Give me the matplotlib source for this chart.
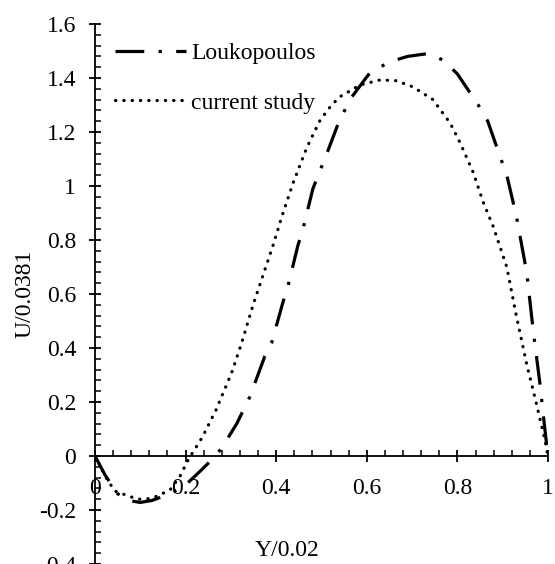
import numpy as np
import matplotlib
matplotlib.use("Agg")
import matplotlib.pyplot as plt
from matplotlib.ticker import MultipleLocator, FuncFormatter

plt.rcParams['font.family'] = ['Liberation Serif', 'DejaVu Serif']
plt.rcParams['font.size'] = 17

# Loukopoulos (dash-dot)
louk_x = [0, 0.022, 0.05, 0.075, 0.1, 0.125, 0.15, 0.195, 0.236, 0.26, 0.28,
          0.313, 0.342, 0.375, 0.39, 0.415, 0.426, 0.448, 0.459, 0.481, 0.514,
          0.54, 0.567, 0.607, 0.651, 0.69, 0.733, 0.768, 0.8, 0.85, 0.867,
          0.894, 0.909, 0.93, 0.953, 0.967, 0.982, 0.993, 1.0]
louk_y = [0, -0.07, -0.14, -0.165, -0.172, -0.165, -0.15, -0.115, -0.05, -0.01, 0.03,
          0.12, 0.22, 0.37, 0.42, 0.57, 0.63, 0.78, 0.84, 0.99, 1.13,
          1.245, 1.33, 1.42, 1.46, 1.48, 1.49, 1.467, 1.415, 1.29, 1.24,
          1.11, 1.04, 0.89, 0.68, 0.47, 0.27, 0.10, 0.0]

# current study (dotted)
cur_x = [0, 0.026, 0.044, 0.077, 0.095, 0.11, 0.128, 0.148, 0.166, 0.187, 0.207,
         0.236, 0.267, 0.302, 0.324, 0.349, 0.371, 0.393, 0.415, 0.437, 0.468,
         0.497, 0.52, 0.54, 0.585, 0.63, 0.665, 0.702, 0.746, 0.784, 0.806, 0.835, 0.857,
         0.879, 0.909, 0.93, 0.953, 0.975, 0.993, 1.0]
cur_y = [0, -0.085, -0.13, -0.15, -0.16, -0.16, -0.155, -0.14, -0.125, -0.077, -0.01,
         0.067, 0.17, 0.31, 0.42, 0.56, 0.67, 0.78, 0.90, 1.01, 1.144,
         1.244, 1.295, 1.33, 1.374, 1.393, 1.39, 1.367, 1.32, 1.233, 1.16, 1.05, 0.94,
         0.85, 0.70, 0.52, 0.34, 0.19, 0.06, 0.0]

fig = plt.figure(figsize=(5.55, 5.64), dpi=100)
ax = fig.add_axes([95 / 555, 0.0, 453 / 555, 540 / 564])

ax.plot(louk_x, louk_y, color='black', lw=2.3, dashes=(9, 4.5, 1, 4.5),
        label='Loukopoulos')
ax.plot(cur_x, cur_y, color='black', lw=2.3, dashes=(0.1, 2.5),
        dash_capstyle='round', label='current study')

ax.set_xlim(0, 1)
ax.set_ylim(-0.4, 1.6)

ax.spines['top'].set_visible(False)
ax.spines['right'].set_visible(False)
ax.spines['bottom'].set_position(('data', 0))
ax.spines['left'].set_linewidth(1.3)
ax.spines['bottom'].set_linewidth(1.3)

ax.xaxis.set_major_locator(MultipleLocator(0.2))
ax.xaxis.set_minor_locator(MultipleLocator(0.04))
ax.yaxis.set_major_locator(MultipleLocator(0.2))
ax.yaxis.set_minor_locator(MultipleLocator(0.04))

fmt = FuncFormatter(lambda v, p: '%g' % round(v, 2) if abs(v) > 1e-9 else '0')
ax.xaxis.set_major_formatter(fmt)
ax.yaxis.set_major_formatter(fmt)

ax.tick_params(which='major', direction='inout', length=9, width=1.3, pad=9)
ax.tick_params(which='minor', direction='in', length=4.5, width=1.1)
ax.tick_params(axis='x', which='major', pad=11)

ax.set_xlabel('Y/0.02')
ax.set_ylabel('U/0.0381')
ax.xaxis.set_label_coords(0.425, 0.045)
ax.yaxis.set_label_coords(-0.132, 0.5)

ax.legend(loc='upper left', bbox_to_anchor=(0.045, 0.966), frameon=False,
          borderpad=0, borderaxespad=0, handlelength=3.0, handletextpad=0.2,
          labelspacing=1.2)

fig.savefig('out.png', dpi=100)
